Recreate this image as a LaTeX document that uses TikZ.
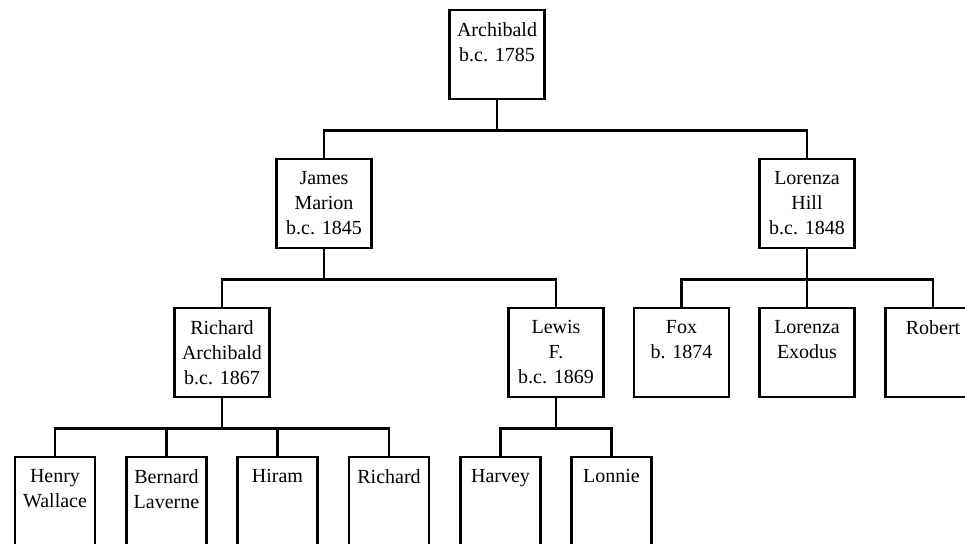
\documentclass[tikz,border=0pt]{standalone}
\usepackage{fontspec}
\setmainfont{Liberation Serif}
\usepackage{tikz}

\tikzset{
  kin/.style={draw, line width=2.4pt, fill=white, minimum width=95pt, minimum height=89pt, inner sep=0pt, anchor=north},
  kid/.style={kin, minimum width=80pt, minimum height=110pt},
  kinname/.style={anchor=north, align=center, inner sep=0pt, yshift=-13pt, font={\fontsize{20}{25}\selectfont}},
  link/.style={line width=2.4pt}
}

\begin{document}
\begin{tikzpicture}[x=1pt, y=-1pt]
\useasboundingbox (0,0) rectangle (965,543);
\clip (0,0) rectangle (965,543);

% first generation
\node[kin, label={[kinname]north:Archibald\\b.c. 1785}] (arch) at (497,9) {};

% second generation
\node[kin, label={[kinname]north:James\\Marion\\b.c. 1845}] (james) at (324,158) {};
\node[kin, label={[kinname]north:Lorenza\\Hill\\b.c. 1848}] (lhill) at (807,158) {};

% third generation
\node[kin, label={[kinname]north:Richard\\Archibald\\b.c. 1867}] (richa) at (222,307) {};
\node[kin, label={[kinname]north:Lewis\\F.\\b.c. 1869}] (lewis) at (556,307) {};
\node[kin, label={[kinname]north:Fox\\b. 1874}] (fox) at (681.5,307) {};
\node[kin, label={[kinname]north:Lorenza\\Exodus}] (lexodus) at (807,307) {};
\node[kin, label={[kinname]north:Robert}] (robert) at (933,307) {};

% fourth generation
\node[kid, label={[kinname]north:Henry\\Wallace}] (henry) at (55,456) {};
\node[kid, label={[kinname]north:Bernard\\Laverne}] (bernard) at (166.5,456) {};
\node[kid, label={[kinname]north:Hiram}] (hiram) at (277.5,456) {};
\node[kid, label={[kinname]north:Richard}] (richard) at (389,456) {};
\node[kid, label={[kinname]north:Harvey}] (harvey) at (500.5,456) {};
\node[kid, label={[kinname]north:Lonnie}] (lonnie) at (611.5,456) {};

\draw[link] (arch.south) -- ++(0,30) -| (james.north);
\draw[link] (arch.south) -- ++(0,30) -| (lhill.north);

\draw[link] (james.south) -- ++(0,30) -| (richa.north);
\draw[link] (james.south) -- ++(0,30) -| (lewis.north);

\draw[link] (lhill.south) -- ++(0,30) -| (fox.north);
\draw[link] (lhill.south) -- ++(0,30) -| (lexodus.north);
\draw[link] (lhill.south) -- ++(0,30) -| (robert.north);

\draw[link] (richa.south) -- ++(0,30) -| (henry.north);
\draw[link] (richa.south) -- ++(0,30) -| (bernard.north);
\draw[link] (richa.south) -- ++(0,30) -| (hiram.north);
\draw[link] (richa.south) -- ++(0,30) -| (richard.north);

\draw[link] (lewis.south) -- ++(0,30) -| (harvey.north);
\draw[link] (lewis.south) -- ++(0,30) -| (lonnie.north);
\end{tikzpicture}
\end{document}
